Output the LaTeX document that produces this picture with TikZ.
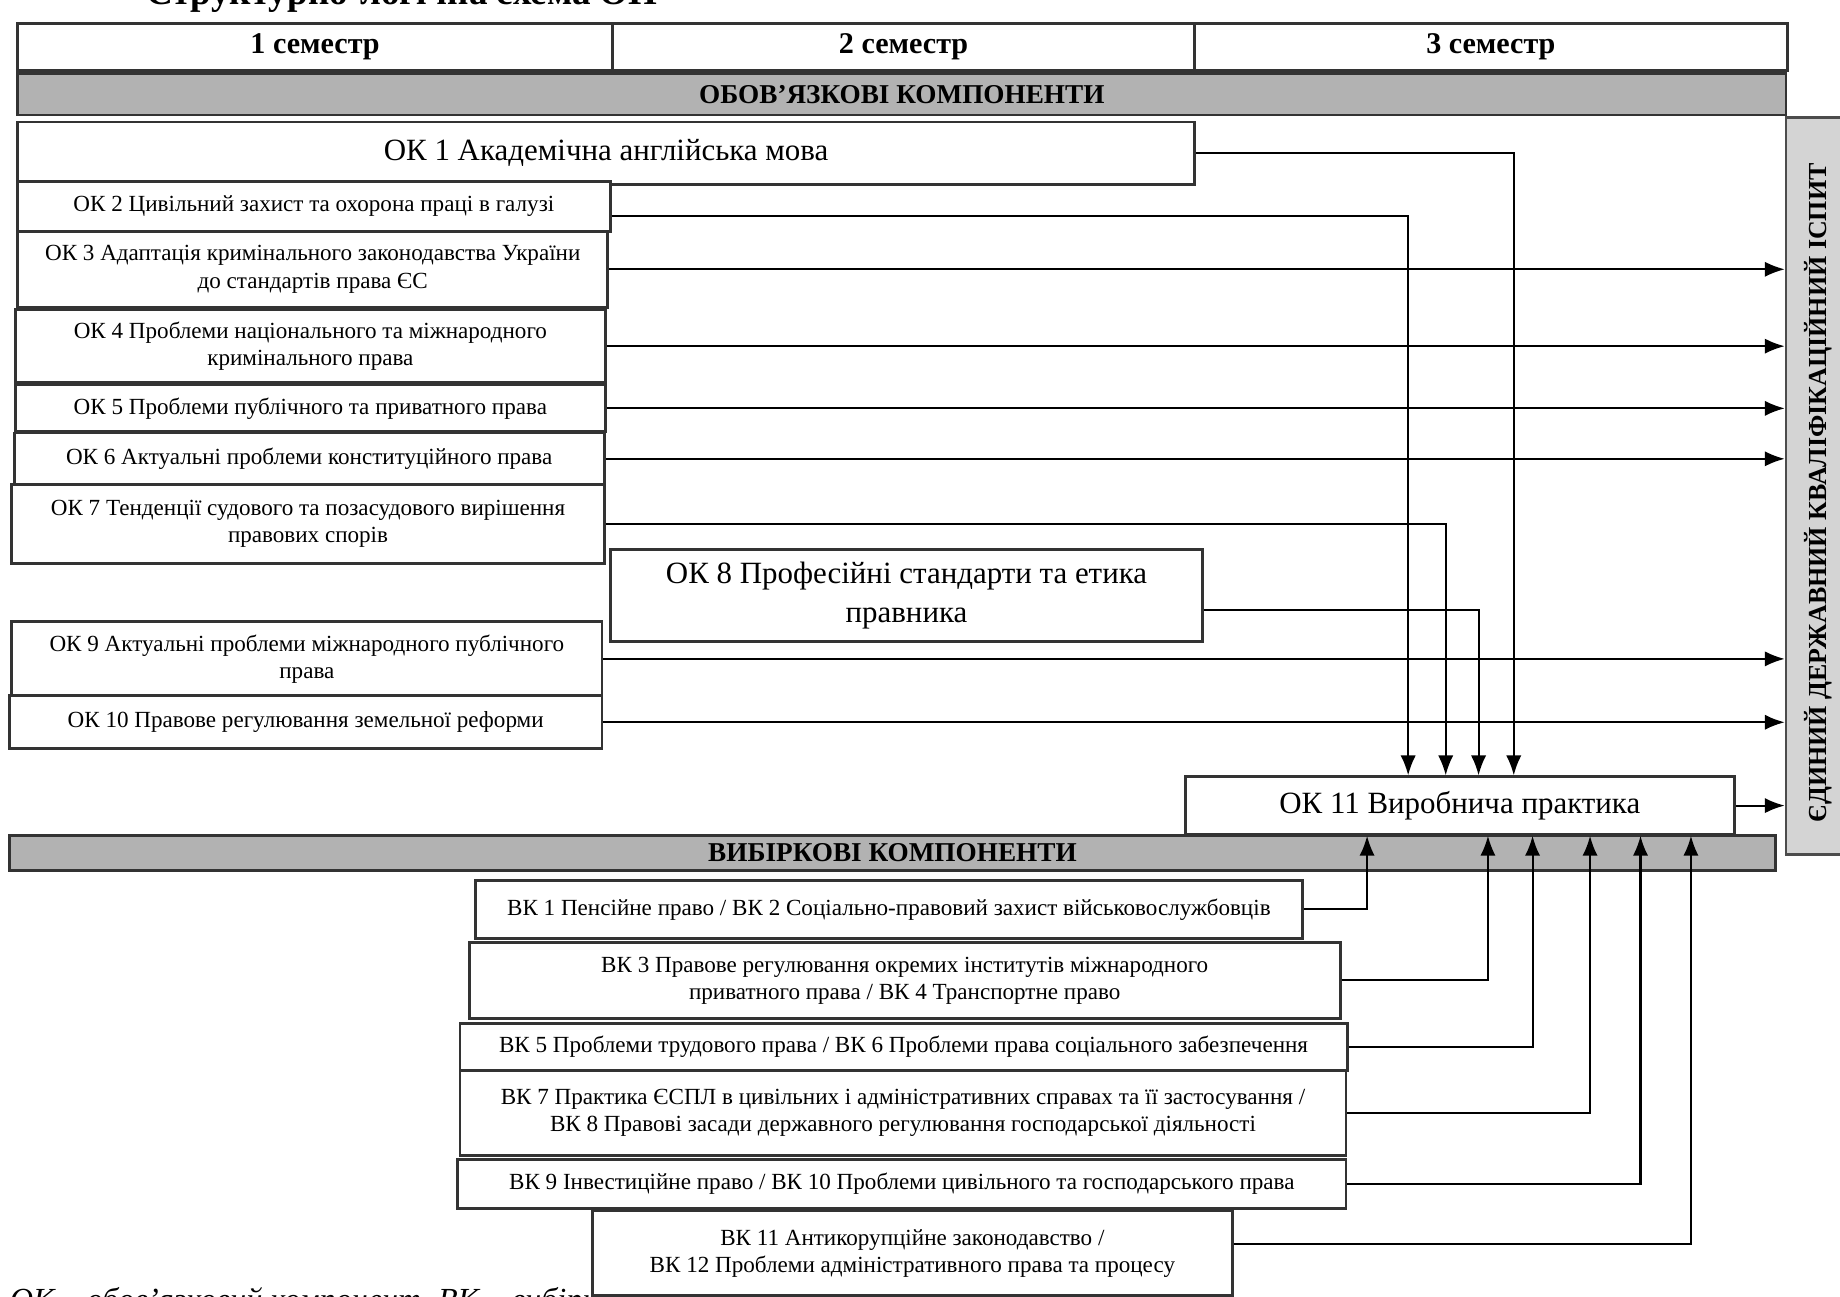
\documentclass[tikz,border=0pt]{standalone}
\usepackage{fontspec}
\setmainfont{Liberation Serif}
\usetikzlibrary{arrows.meta}

\begin{document}
\begin{tikzpicture}[x=0.1mm,y=-0.1mm,
    box/.style={draw=black!80,line width=0.7pt,fill=white,align=center,inner sep=0pt,font=\fontsize{5.6}{6.6}\selectfont},
    bigbox/.style={box,font=\fontsize{7.5}{9.5}\selectfont},
    sembox/.style={box,font=\bfseries\fontsize{7.3}{8}\selectfont},
    bar/.style={draw=black!80,line width=0.7pt,fill=black!30,inner sep=0pt,font=\bfseries\fontsize{6.6}{7}\selectfont},
    exambox/.style={draw=black!70,line width=0.6pt,fill=black!17,inner sep=0pt},
    arr/.style={-{Latex[length=1.7mm,width=1.3mm]},line width=0.5pt}]
    \useasboundingbox (0,0) rectangle (1568,1105);
    \fill[white] (0,0) rectangle (1568,1105);
    \node[anchor=base west,font=\bfseries\fontsize{9}{10}\selectfont] (title) at (112,4) {Структурно-логічна схема ОП};
    \node[sembox,minimum width=50.7mm,minimum height=4mm] (sem1) at (268.5,40) {1 семестр};
    \node[sembox,minimum width=49.6mm,minimum height=4mm] (sem2) at (770,40) {2 семестр};
    \node[sembox,minimum width=50.5mm,minimum height=4mm] (sem3) at (1270.5,40) {3 семестр};
    \node[bar,minimum width=150.7mm,minimum height=3.5mm] (okbar) at (768.5,80.5) {ОБОВ’ЯЗКОВІ КОМПОНЕНТИ};
    \node[exambox,minimum width=5.8mm,minimum height=62.8mm] (exam) at (1551,414) {};
    \node[rotate=90,font=\bfseries\fontsize{6.3}{7}\selectfont] (examtext) at (1549,420) {ЄДИНИЙ ДЕРЖАВНИЙ КВАЛІФІКАЦІЙНИЙ ІСПИТ};
    \node[bar,minimum width=150.5mm,minimum height=3mm] (vkbar) at (760.5,727) {ВИБІРКОВІ КОМПОНЕНТИ};
    \node[bigbox,minimum width=100.3mm,minimum height=5.3mm] (ok1) at (516.5,130.5) {ОК 1 Академічна англійська мова};
    \node[box,minimum width=50.5mm,minimum height=4.2mm] (ok2) at (267.5,176) {ОК 2 Цивільний захист та охорона праці в галузі};
    \node[box,minimum width=50.3mm,minimum height=6.5mm] (ok3) at (266.5,229.5) {ОК 3 Адаптація кримінального законодавства України\\до стандартів права ЄС};
    \node[box,minimum width=50.3mm,minimum height=6.2mm] (ok4) at (264.5,295) {ОК 4 Проблеми національного та міжнародного\\кримінального права};
    \node[box,minimum width=50.3mm,minimum height=4mm] (ok5) at (264.5,348) {ОК 5 Проблеми публічного та приватного права};
    \node[box,minimum width=50.3mm,minimum height=4.4mm] (ok6) at (263.5,391) {ОК 6 Актуальні проблеми конституційного права};
    \node[box,minimum width=50.5mm,minimum height=6.7mm] (ok7) at (262.5,446.5) {ОК 7 Тенденції судового та позасудового вирішення\\правових спорів};
    \node[bigbox,minimum width=50.5mm,minimum height=7.9mm] (ok8) at (772.5,507.5) {ОК 8 Професійні стандарти та етика\\правника};
    \node[box,minimum width=50.3mm,minimum height=6.3mm] (ok9) at (261.5,561.5) {ОК 9 Актуальні проблеми міжнародного публічного\\права};
    \node[box,minimum width=50.5mm,minimum height=4.5mm] (ok10) at (260.5,615.5) {ОК 10 Правове регулювання земельної реформи};
    \node[bigbox,minimum width=46.8mm,minimum height=4.9mm,text depth=0.6mm] (ok11) at (1244,686.5) {ОК 11 Виробнича практика};
    \node[box,minimum width=70.5mm,minimum height=5mm] (vk1) at (757.5,775) {ВК 1 Пенсійне право / ВК 2 Соціально-правовий захист військовослужбовців};
    \node[box,minimum width=74.2mm,minimum height=6.5mm] (vk3) at (771,835.5) {ВК 3 Правове регулювання окремих інститутів міжнародного\\приватного права / ВК 4 Транспортне право};
    \node[box,minimum width=75.6mm,minimum height=4mm] (vk5) at (770,892) {ВК 5 Проблеми трудового права / ВК 6 Проблеми права соціального забезпечення};
    \node[box,minimum width=75.5mm,minimum height=7.3mm] (vk7) at (769.5,948.5) {ВК 7 Практика ЄСПЛ в цивільних і адміністративних справах та її застосування /\\ВК 8 Правові засади державного регулювання господарської діяльності};
    \node[box,minimum width=75.7mm,minimum height=4.2mm] (vk9) at (768.5,1009) {ВК 9 Інвестиційне право / ВК 10 Проблеми цивільного та господарського права};
    \node[anchor=base west,font=\itshape\fontsize{7.8}{9}\selectfont] (note) at (-4,1117) {ОК – обов’язковий компонент, ВК – вибірковий компонент};
    \node[box,minimum width=54.5mm,minimum height=7.2mm] (vk11) at (777.5,1068) {ВК 11 Антикорупційне законодавство /\\ВК 12 Проблеми адміністративного права та процесу};
    \draw[arr] (ok1.east) -| ([xshift=4.6mm]ok11.north);
    \draw[arr] ([yshift=-0.8mm]ok2.east) -| ([xshift=-4.4mm]ok11.north);
    \draw[arr] (ok7.east) -| ([xshift=-1.2mm]ok11.north);
    \draw[arr] ([yshift=-1.2mm]ok8.east) -| ([xshift=1.6mm]ok11.north);
    \draw[arr] (ok3.east) -- (ok3.east -| exam.west);
    \draw[arr] (ok4.east) -- (ok4.east -| exam.west);
    \draw[arr] (ok5.east) -- (ok5.east -| exam.west);
    \draw[arr] (ok6.east) -- (ok6.east -| exam.west);
    \draw[arr] (ok9.east) -- (ok9.east -| exam.west);
    \draw[arr] (ok10.east) -- (ok10.east -| exam.west);
    \draw[arr] (ok11.east) -- (ok11.east -| exam.west);
    \draw[arr] (vk1.east) -| ([xshift=-7.9mm]ok11.south);
    \draw[arr] (vk3.east) -| ([xshift=2.4mm]ok11.south);
    \draw[arr] (vk5.east) -| ([xshift=6.2mm]ok11.south);
    \draw[arr] (vk7.east) -| ([xshift=11.1mm]ok11.south);
    \draw[arr] (vk9.east) -| ([xshift=15.4mm]ok11.south);
    \draw[arr] ([yshift=0.8mm]vk11.east) -| ([xshift=19.7mm]ok11.south);
\end{tikzpicture}
\end{document}
